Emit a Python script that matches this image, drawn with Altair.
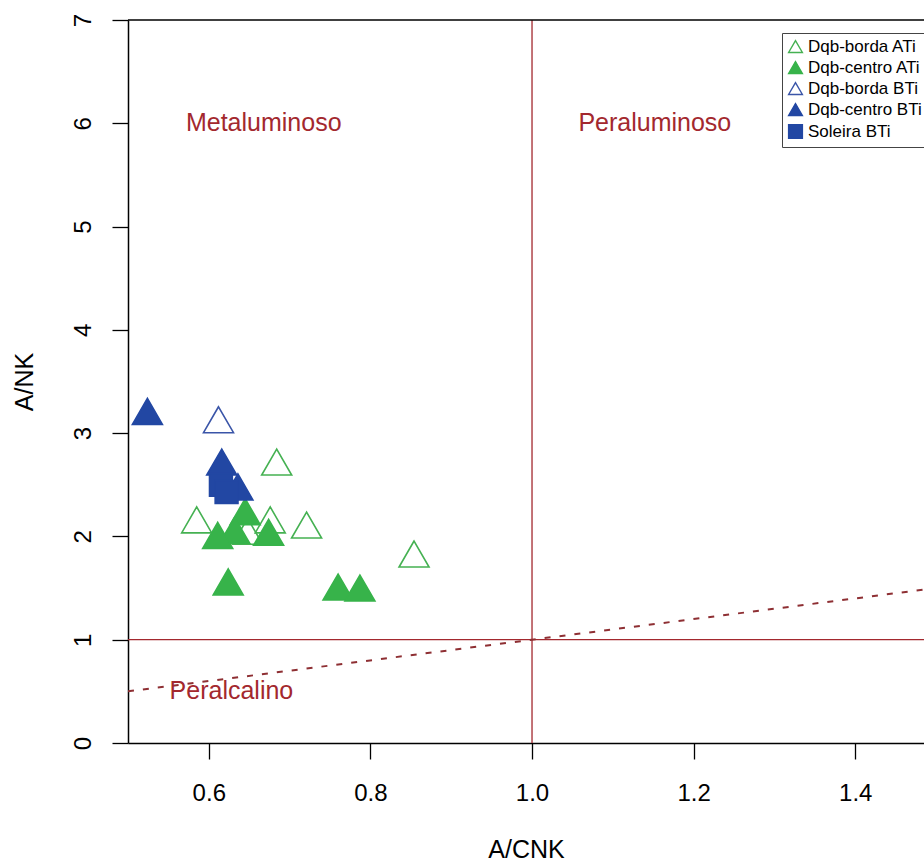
import altair as alt
import pandas as pd

# ---- data ----
groups = ["Dqb-borda ATi", "Dqb-centro ATi", "Dqb-borda BTi", "Dqb-centro BTi", "Soleira BTi"]
shapes = ["triangle-up", "triangle-up", "triangle-up", "triangle-up", "square"]
fills = ["transparent", "#37B34A", "transparent", "#2247A3", "#2247A3"]
strokes = ["#45B152", "#37B34A", "#3A55A8", "#2247A3", "#2247A3"]

borda_ati_x = [0.684, 0.585, 0.676, 0.721, 0.854, 0.648]
borda_ati_y = [2.72, 2.16, 2.16, 2.11, 1.83, 2.05]
borda_bti_x = [0.612]
borda_bti_y = [3.13]
centro_ati_x = [0.645, 0.632, 0.611, 0.674, 0.624, 0.760, 0.787]
centro_ati_y = [2.24, 2.06, 2.01, 2.04, 1.56, 1.51, 1.50]
centro_bti_x = [0.524, 0.616, 0.636]
centro_bti_y = [3.21, 2.72, 2.48]
soleira_x = [0.615, 0.622]
soleira_y = [2.50, 2.43]

region_labels = ["Metaluminoso", "Peraluminoso", "Peralcalino"]
region_x = [0.668, 1.152, 0.628]
region_y = [6.0, 6.0, 0.5]

boundary_x = [0.5, 1.5]
boundary_y = [0.5, 1.5]

x_ticks = [0.6, 0.8, 1.0, 1.2, 1.4]
y_ticks = [0, 1, 2, 3, 4, 5, 6, 7]

# ---- tables ----
rows = []
for g, xs, ys in [
    ("Dqb-borda ATi", borda_ati_x, borda_ati_y),
    ("Dqb-borda BTi", borda_bti_x, borda_bti_y),
    ("Dqb-centro ATi", centro_ati_x, centro_ati_y),
    ("Soleira BTi", soleira_x, soleira_y),
    ("Dqb-centro BTi", centro_bti_x, centro_bti_y),
]:
    for a, b in zip(xs, ys):
        rows.append({"grupo": g, "acnk": a, "ank": b})
pts = pd.DataFrame(rows)
pts["ordem"] = range(len(pts))
tri = pts[pts["grupo"] != "Soleira BTi"]
sq = pts[pts["grupo"] == "Soleira BTi"]

regions = pd.DataFrame({"label": region_labels, "x": region_x, "y": region_y})
boundary = pd.DataFrame({"x": boundary_x, "y": boundary_y})

XMIN, XMAX = 0.5, 1.4851
FONT = "Liberation Sans"
RED = "#A3282E"

xscale = alt.Scale(domain=[XMIN, XMAX], nice=False, zero=False)
yscale = alt.Scale(domain=[0, 7], nice=False, zero=True)

xaxis = alt.Axis(
    values=x_ticks, format=".1f", grid=False, title="A/CNK",
    domainColor="black", domainWidth=1.5, tickColor="black", tickWidth=1.3, tickSize=16,
    labelFont=FONT, labelFontSize=24, labelColor="black", labelPadding=41,
    labelBaseline="alphabetic", labelFlush=False,
    titleFont=FONT, titleFontSize=25, titleFontWeight="normal", titleColor="black",
    titleBaseline="bottom", titleY=119,
)
yaxis = alt.Axis(
    values=y_ticks, format="d", grid=False, title="A/NK",
    domainColor="black", domainWidth=1.5, tickColor="black", tickWidth=1.3, tickSize=16,
    labelFont=FONT, labelFontSize=24, labelColor="black", labelAngle=270,
    labelAlign="center", labelBaseline="alphabetic", labelPadding=22, labelFlush=False,
    titleFont=FONT, titleFontSize=25, titleFontWeight="normal", titleColor="black",
    titleAngle=270, titleBaseline="alphabetic", titleX=-96,
)

enc = dict(
    x=alt.X("acnk:Q", scale=xscale, axis=xaxis),
    y=alt.Y("ank:Q", scale=yscale, axis=yaxis),
    shape=alt.Shape("grupo:N", scale=alt.Scale(domain=groups, range=shapes), legend=alt.Legend(title=None)),
    fill=alt.Fill("grupo:N", scale=alt.Scale(domain=groups, range=fills), legend=alt.Legend(title=None)),
    stroke=alt.Stroke("grupo:N", scale=alt.Scale(domain=groups, range=strokes), legend=alt.Legend(title=None)),
    order=alt.Order("ordem:Q"),
)

points_tri = alt.Chart(tri).mark_point(filled=True, size=900, strokeWidth=1.6, opacity=1).encode(**enc)
points_sq = alt.Chart(sq).mark_point(filled=True, size=520, strokeWidth=1.6, opacity=1).encode(**enc)

hline = alt.Chart(pd.DataFrame({"y": [1]})).mark_rule(color=RED, strokeWidth=1.3).encode(y=alt.Y("y:Q", scale=yscale))
vline = alt.Chart(pd.DataFrame({"x": [1.0]})).mark_rule(color=RED, strokeWidth=1.3).encode(x=alt.X("x:Q", scale=xscale))
topline = alt.Chart(pd.DataFrame({"y": [7]})).mark_rule(color="black", strokeWidth=1.5).encode(y=alt.Y("y:Q", scale=yscale))

dashed = alt.Chart(boundary).mark_line(color="#8E2F33", strokeWidth=2, strokeDash=[6, 9], clip=True).encode(
    x=alt.X("x:Q", scale=xscale), y=alt.Y("y:Q", scale=yscale)
)

texts = alt.Chart(regions).mark_text(font=FONT, fontSize=25, color=RED, align="center", baseline="middle").encode(
    x=alt.X("x:Q", scale=xscale), y=alt.Y("y:Q", scale=yscale), text="label:N"
)

chart = alt.layer(hline, vline, dashed, texts, points_tri, points_sq, topline).properties(
    width=796, height=723,
    padding={"left": 128, "top": 20, "right": 0, "bottom": 120},
    autosize=alt.AutoSizeParams(type="none"),
).configure_view(stroke=None).configure_legend(
    orient="none", legendX=654, legendY=13,
    strokeColor="#444", fillColor="white", padding=5, cornerRadius=0,
    labelFont=FONT, labelFontSize=17, labelColor="black", symbolSize=190,
    symbolStrokeWidth=1.4, rowPadding=2, labelOffset=4,
)

chart.save("out.html", embed_options={"renderer": "svg", "actions": False})
